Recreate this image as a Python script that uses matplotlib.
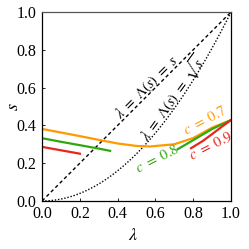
import numpy as np
import matplotlib
matplotlib.use("Agg")
import matplotlib.pyplot as plt

plt.rcParams['font.family'] = ['Liberation Serif', 'DejaVu Serif']
plt.rcParams['mathtext.fontset'] = 'stix'

# c = 0.7 (orange)
lam_07 = [0.0, 0.1, 0.2, 0.3, 0.4, 0.5, 0.57, 0.7, 0.8, 0.9, 1.0]
s_07 = [0.381, 0.362, 0.343, 0.323, 0.304, 0.291, 0.288, 0.300, 0.333, 0.388, 0.428]

# c = 0.8 (green), two branches
lam_08a = [0.0, 0.1, 0.2, 0.3, 0.36]
s_08a = [0.332, 0.313, 0.295, 0.277, 0.265]
lam_08b = [0.718, 0.8, 0.9, 1.0]
s_08b = [0.274, 0.322, 0.381, 0.428]

# c = 0.9 (red), two branches
lam_09a = [0.0, 0.1, 0.2]
s_09a = [0.286, 0.268, 0.250]
lam_09b = [0.788, 0.85, 0.9, 0.95, 1.0]
s_09b = [0.279, 0.317, 0.354, 0.392, 0.428]

ticks = [0.0, 0.2, 0.4, 0.6, 0.8, 1.0]

orange = '#FF9A00'
green = '#2EA80E'
red = '#E8261A'

fig = plt.figure(figsize=(2.49, 2.49), dpi=100)
ax = fig.add_axes([0.169, 0.193, 0.759, 0.759])

# reference lines
lam_ref = np.linspace(0, 1, 101)
ax.plot(lam_ref, lam_ref, color='black', lw=1.0, ls=(0, (2.5, 2)))
ax.plot(lam_ref, lam_ref ** 2, color='black', lw=1.0, ls=(0, (1, 1.3)))

ax.plot(lam_07, s_07, color=orange, lw=1.6)
ax.plot(lam_08a, s_08a, color=green, lw=1.6)
ax.plot(lam_08b, s_08b, color=green, lw=1.6)
ax.plot(lam_09a, s_09a, color=red, lw=1.6)
ax.plot(lam_09b, s_09b, color=red, lw=1.6)

ax.text(0.555, 0.60, r'$\lambda\ =\ \Lambda(s)\ =\ s$', rotation=45, fontsize=10.5,
        ha='center', va='center', rotation_mode='anchor')
ax.text(0.69, 0.54, r'$\lambda\ =\ \Lambda(s)\ =\ \sqrt{s}$', rotation=54, fontsize=10.5,
        ha='center', va='center', rotation_mode='anchor')
ax.text(0.861, 0.423, r'$c\ =\ 0.7$', rotation=28, fontsize=10.5, color=orange,
        ha='center', va='center', rotation_mode='anchor')
ax.text(0.61, 0.222, r'$c\ =\ 0.8$', rotation=27, fontsize=10.5, color=green,
        ha='center', va='center', rotation_mode='anchor')
ax.text(0.896, 0.291, r'$c\ =\ 0.9$', rotation=27, fontsize=10.5, color=red,
        ha='center', va='center', rotation_mode='anchor')

ax.set_xlim(0, 1)
ax.set_ylim(0, 1)
ax.set_xticks(ticks)
ax.set_yticks(ticks)
ax.set_xticklabels([f'{t:.1f}' for t in ticks])
ax.set_yticklabels([f'{t:.1f}' for t in ticks])
ax.tick_params(direction='in', length=2.5, width=0.6, labelsize=11.5, pad=4)
for side in ['left', 'bottom', 'right']:
    ax.spines[side].set_linewidth(0.9)
ax.spines['top'].set_linewidth(0.9)
ax.spines['top'].set_color('#555555')

ax.set_xlabel(r'$\lambda$', fontsize=13)
ax.set_ylabel(r'$s$', fontsize=13, rotation=90)
ax.xaxis.set_label_coords(0.48, -0.185)
ax.yaxis.set_label_coords(-0.153, 0.497)
ax.xaxis.label.set_va('center')
ax.yaxis.label.set_va('center')

fig.savefig('out.png', dpi=100)
